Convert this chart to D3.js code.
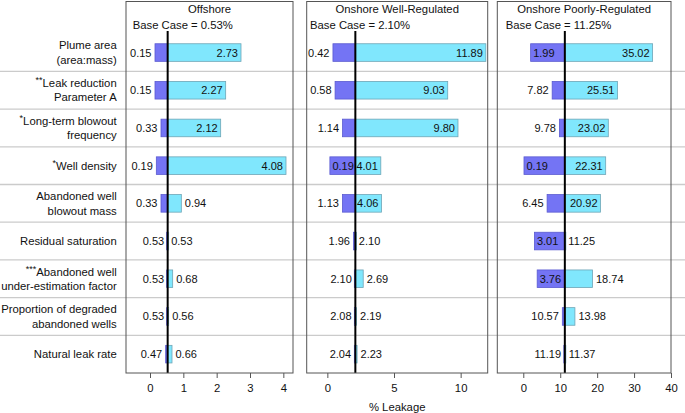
<!DOCTYPE html>
<html><head><meta charset="utf-8">
<script src="https://cdn.jsdelivr.net/npm/d3@7"></script>
<style>
html,body{margin:0;padding:0;background:#fff;}
svg{display:block;font-family:"Liberation Sans",Arial,Helvetica,sans-serif;}
</style></head>
<body>
<svg id="chart" width="685" height="413"></svg>
<script>
// ---------- DATA ----------
const categories = ["Plume area\n(area:mass)", "Leak reduction\nParameter A", "Long-term blowout\nfrequency", "Well density", "Abandoned well\nblowout mass", "Residual saturation", "Abandoned well\nunder-estimation factor", "Proportion of degraded\nabandoned wells", "Natural leak rate"];
const stars = ["", "**", "*", "*", "", "", "***", "", ""];
const scenarios = ["Offshore", "Onshore Well-Regulated", "Onshore Poorly-Regulated"];
const baseCases = [0.53, 2.10, 11.25];
const baseLabels = ["0.53%", "2.10%", "11.25%"];
const offshoreLow  = [0.15, 0.15, 0.33, 0.19, 0.33, 0.53, 0.53, 0.53, 0.47];
const offshoreHigh = [2.73, 2.27, 2.12, 4.08, 0.94, 0.53, 0.68, 0.56, 0.66];
const wellLow  = [0.42, 0.58, 1.14, 0.19, 1.13, 1.96, 2.10, 2.08, 2.04];
const wellHigh = [11.89, 9.03, 9.80, 4.01, 4.06, 2.10, 2.69, 2.19, 2.23];
const poorLow  = [1.99, 7.82, 9.78, 0.19, 6.45, 3.01, 3.76, 10.57, 11.19];
const poorHigh = [35.02, 25.51, 23.02, 22.31, 20.92, 11.25, 18.74, 13.98, 11.37];
const ticksOffshore = [0, 1, 2, 3, 4];
const ticksWell = [0, 5, 10];
const ticksPoor = [0, 10, 20, 30, 40];
const xTitle = "% Leakage";

// ---------- LAYOUT ----------
(function () {
const W = 685, H = 413;
const rowsTop = 33.7, rowsBottom = 373, panelTop = 1.5;
const panels = [
  {x0: 126, x1: 293, dom: [-0.72, 4.29], low: offshoreLow, high: offshoreHigh, ticks: ticksOffshore, baseDx: 6.7},
  {x0: 306.7, x1: 487.7, dom: [-1.55, 12.03], low: wellLow, high: wellHigh, ticks: ticksWell, baseDx: 3.3},
  {x0: 497.3, x1: 671, dom: [-7.04, 40], low: poorLow, high: poorHigh, ticks: ticksPoor, baseDx: 8.4}
];
const FS = 11.3, VFS = 11;
const purple = "#7474f4", purpleStroke = "#5b5bd0";
const cyan = "#80e7fd", cyanStroke = "#6ea5b6";

const svg = d3.select("#chart");
const y = d3.scaleBand().domain(d3.range(categories.length)).range([rowsTop, rowsBottom]).padding(0);
const barH = 17.6;

// separators
svg.append("g").selectAll("line").data(d3.range(1, categories.length)).join("line")
  .attr("x1", 0).attr("x2", W)
  .attr("y1", i => y(i)).attr("y2", i => y(i))
  .attr("stroke", "#cbcbcb").attr("stroke-width", 1.3);

// category labels
const lab = svg.append("g").attr("font-size", FS).attr("fill", "#111").attr("text-anchor", "end");
categories.forEach((c, i) => {
  const lines = c.split("\n");
  const cy = y(i) + y.bandwidth() / 2;
  const lh = 14.3;
  const y0 = cy - (lines.length - 1) * lh / 2 + 4;
  lines.forEach((ln, j) => {
    const t = lab.append("text").attr("x", 116.7).attr("y", y0 + j * lh);
    if (j === 0 && stars[i]) {
      t.append("tspan").attr("font-size", 9).attr("dy", -4).text(stars[i]);
      t.append("tspan").attr("dy", 4).text(ln);
    } else t.text(ln);
  });
});

panels.forEach((p, k) => {
  const x = d3.scaleLinear().domain(p.dom).range([p.x0, p.x1]);
  const g = svg.append("g");
  const base = baseCases[k];
  // low bars
  g.selectAll("rect.low").data(p.low).join("rect").attr("class", "low")
    .attr("x", d => Math.min(x(d), x(base) - 1))
    .attr("width", d => Math.max(x(base) - x(d), 1))
    .attr("y", (d, i) => y(i) + y.bandwidth() / 2 - barH / 2)
    .attr("height", barH)
    .attr("fill", purple).attr("stroke", purpleStroke).attr("stroke-width", 0.8);
  // high bars
  g.selectAll("rect.high").data(p.high).join("rect").attr("class", "high")
    .attr("x", x(base))
    .attr("width", d => Math.max(x(d) - x(base), 1))
    .attr("y", (d, i) => y(i) + y.bandwidth() / 2 - barH / 2)
    .attr("height", barH)
    .attr("fill", cyan).attr("stroke", cyanStroke).attr("stroke-width", 0.8);
  // base line
  g.append("line").attr("x1", x(base)).attr("x2", x(base)).attr("y1", 31).attr("y2", rowsBottom)
    .attr("stroke", "#000").attr("stroke-width", 2);
  // value labels
  const vl = g.append("g").attr("font-size", VFS).attr("fill", "#111");
  p.low.forEach((d, i) => {
    const cy = y(i) + y.bandwidth() / 2 + 4;
    const t = vl.append("text").attr("y", cy).text(d.toFixed(2));
    const tw = t.node().getComputedTextLength();
    const bw = x(base) - x(d);
    if (bw > tw + 3) t.attr("x", x(d) + 2.5).attr("text-anchor", "start");
    else t.attr("x", x(d) - 3.5).attr("text-anchor", "end");
  });
  p.high.forEach((d, i) => {
    const cy = y(i) + y.bandwidth() / 2 + 4;
    const t = vl.append("text").attr("y", cy).text(d.toFixed(2));
    const tw = t.node().getComputedTextLength();
    const bw = x(d) - x(base);
    if (bw > tw + 3) t.attr("x", x(d) - 3).attr("text-anchor", "end");
    else t.attr("x", x(d) + 3.5).attr("text-anchor", "start");
  });
  // panel border
  svg.append("rect").attr("x", p.x0).attr("y", panelTop).attr("width", p.x1 - p.x0).attr("height", rowsBottom - panelTop)
    .attr("fill", "none").attr("stroke", "#555").attr("stroke-width", 1);
  // titles
  svg.append("text").attr("x", (p.x0 + p.x1) / 2).attr("y", 13).attr("text-anchor", "middle")
    .attr("font-size", FS).attr("fill", "#111").text(scenarios[k]);
  svg.append("text").attr("x", p.x0 + p.baseDx).attr("y", 29).attr("text-anchor", "start")
    .attr("font-size", FS).attr("fill", "#111").text("Base Case = " + baseLabels[k]);
  // axis
  const ax = d3.axisBottom(x).tickValues(p.ticks).tickSize(5).tickPadding(6).tickFormat(d3.format("d"));
  const axg = svg.append("g").attr("transform", `translate(0,${rowsBottom})`).call(ax);
  axg.select(".domain").remove();
  axg.selectAll(".tick line").attr("stroke", "#555");
  axg.selectAll(".tick text").attr("font-size", FS).attr("fill", "#111").attr("font-family", null);
});

svg.append("text").attr("x", (panels[1].x0 + panels[1].x1) / 2).attr("y", 410.5).attr("text-anchor", "middle")
  .attr("font-size", FS).attr("fill", "#111").text(xTitle);
})();
</script>
</body></html>
